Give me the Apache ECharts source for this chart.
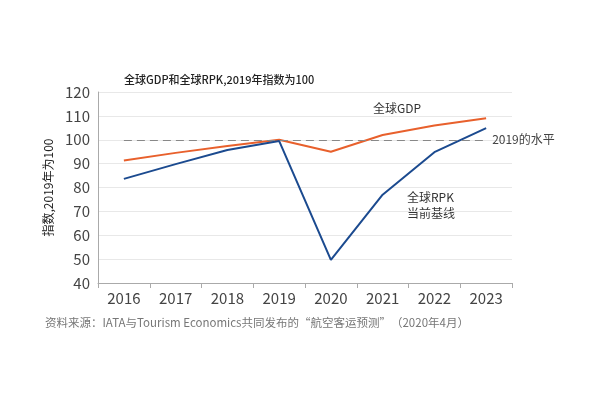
<!DOCTYPE html>
<html>
<head>
<meta charset="utf-8">
<script src="https://cdn.jsdelivr.net/npm/echarts@6/dist/echarts.min.js"></script>
<style>
  html, body { margin: 0; padding: 0; background: #fff; }
  #chart { width: 600px; height: 400px; }
</style>
</head>
<body>
<div id="chart"></div>
<script>
var years = ['2016', '2017', '2018', '2019', '2020', '2021', '2022', '2023'];
var gdpValues = [91.3, 94.5, 97.4, 100, 95, 102, 106, 109];
var rpkValues = [83.6, 89.8, 95.7, 99.5, 49.7, 77, 94.8, 104.9];
var yTicks = { min: 40, max: 120, interval: 10 };

var font = '"Noto Sans CJK SC", "Open Sans", sans-serif';
var chart = echarts.init(document.getElementById('chart'));

var option = {
  backgroundColor: '#fff',
  animation: false,
  title: {
    text: '全球GDP和全球RPK,2019年指数为100',
    left: 119,
    top: 69,
    textStyle: { fontSize: 11, fontWeight: 500, color: '#222', fontFamily: font }
  },
  grid: { left: 98, right: 88, top: 92, bottom: 117 },
  xAxis: {
    type: 'category',
    data: years,
    boundaryGap: true,
    axisLine: { lineStyle: { color: '#aaa' } },
    axisTick: { show: true, length: 5, lineStyle: { color: '#aaa' } },
    axisLabel: { fontSize: 15, color: '#444', margin: 8, fontFamily: font }
  },
  yAxis: {
    type: 'value',
    min: yTicks.min,
    max: yTicks.max,
    interval: yTicks.interval,
    name: '指数,2019年为100',
    nameLocation: 'middle',
    nameGap: 38,
    nameRotate: 90,
    nameTextStyle: { fontSize: 12, color: '#222', fontFamily: font },
    axisLine: { show: true, lineStyle: { color: '#aaa' } },
    axisTick: { show: false },
    splitLine: { lineStyle: { color: '#e8e8e8' } },
    axisLabel: { fontSize: 15, color: '#444', margin: 8, fontFamily: font }
  },
  series: [
    {
      name: '全球GDP',
      type: 'line',
      data: gdpValues,
      symbol: 'none',
      lineStyle: { color: '#e8602c', width: 2 },
      markLine: {
        silent: true,
        symbol: 'none',
        lineStyle: { color: '#888', type: [8, 5], width: 1 },
        label: {
          show: true,
          position: 'end',
          formatter: '2019的水平',
          fontSize: 12,
          color: '#444',
          fontFamily: font,
          distance: 6
        },
        data: [[{ coord: ['2016', 100] }, { coord: ['2023', 100] }]]
      }
    },
    {
      name: '全球RPK',
      type: 'line',
      data: rpkValues,
      symbol: 'none',
      lineStyle: { color: '#1b4a8f', width: 2 }
    }
  ],
  graphic: [
    {
      type: 'text', left: 373, top: 102,
      style: { text: '全球GDP', fontSize: 12, fill: '#333', fontFamily: font }
    },
    {
      type: 'text', left: 407, top: 189,
      style: { text: '全球RPK\n当前基线', fontSize: 12, lineHeight: 16, fill: '#333', fontFamily: font }
    },
    {
      type: 'text', left: 45, top: 317,
      style: { text: '资料来源：IATA与Tourism Economics共同发布的“航空客运预测”（2020年4月）', fontSize: 11.5, fill: '#777', fontFamily: font }
    }
  ]
};

chart.setOption(option);
</script>
</body>
</html>
